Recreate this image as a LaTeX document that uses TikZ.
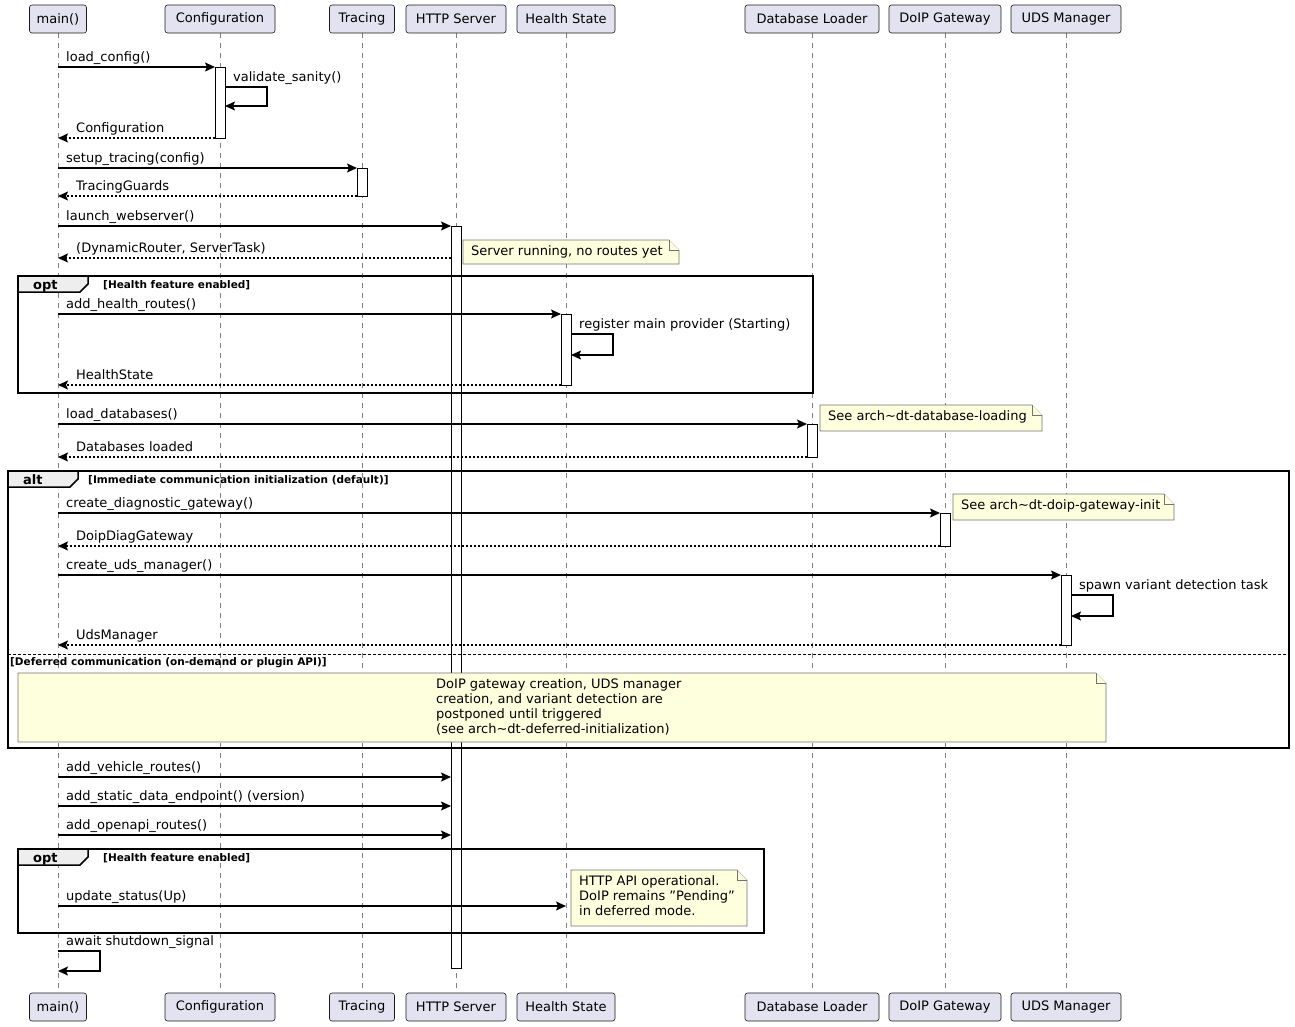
\documentclass[tikz,border=0pt]{standalone}
\usepackage{fontspec}
\setmainfont{DejaVu Sans}
\usetikzlibrary{arrows.meta}
\definecolor{partfill}{HTML}{E2E2F0}
\definecolor{notefill}{HTML}{FEFFDD}
\definecolor{tabfill}{HTML}{EEEEEE}
\tikzset{
  part/.style={draw=black!90, fill=partfill, rounded corners=2.5pt, minimum height=28pt,
    inner sep=0pt, line width=0.6pt, font=\fontsize{13}{15}\selectfont},
  life/.style={draw=gray, dash pattern=on 5pt off 5pt, line width=0.7pt},
  msg/.style={line width=1.4pt, -{Stealth[length=10pt,width=9pt,inset=2pt]}},
  ret/.style={msg, dash pattern=on 2pt off 2pt},
  lbl/.style={anchor=base west, inner sep=0pt, font=\fontsize{13}{15}\selectfont},
  act/.style={draw, fill=white, line width=0.8pt},
  note/.style={draw=black!55, fill=notefill, line width=0.6pt},
  frag/.style={draw=black, line width=1.5pt},
  guard/.style={anchor=base west, inner sep=0pt, font=\bfseries\fontsize{10.5}{12}\selectfont}
}
% messages
\newcommand\msg[4]{\draw[msg] (#2,#1) -- (#3,#1); \node[lbl] at ({#2+8},{#1-6}) {#4};}
\newcommand\ret[4]{\draw[ret] (#2,#1) -- (#3,#1); \node[lbl] at ({#3+18},{#1-6}) {#4};}
\newcommand\self[4]{\draw[msg] (#2,#1) -- ({#2+42},#1) -- ({#2+42},#3) -- (#2,#3);
  \node[lbl] at ({#2+8},{#1-6}) {#4};}
\newcommand\actbox[3]{\draw[act] ({#1-5},#2) rectangle ({#1+5},#3);}
\newcommand\notebox[5]{\draw[note] (#1,#2) -- ({#3-10},#2) -- (#3,{#2+10}) -- (#3,#4) -- (#1,#4) -- cycle;
  \draw[note] ({#3-10},#2) -- ({#3-10},{#2+10}) -- (#3,{#2+10});
  \node[lbl, anchor=north west, align=left] at ({#1+8},{#2+5}) {#5};}
\newcommand\fragbox[7]{\draw[frag] (#1,#2) rectangle (#3,#4);
  \draw[frag, fill=tabfill] (#1,#2) -- ({#1+70},#2) -- ({#1+70},{#2+8}) -- ({#1+62},{#2+16}) -- (#1,{#2+16}) -- cycle;
  \node[lbl, font=\bfseries\fontsize{13}{15}\selectfont] at ({#1+15},{#2+13}) {#5};
  \node[guard] at (#6,{#2+12}) {#7};}
\begin{document}
\begin{tikzpicture}[x=1pt,y=-1pt]
\useasboundingbox (0,0) rectangle (1295,1026);
% Participants
\foreach \n/\x/\w/\t in {main/58/57/main(), conf/220/110/Configuration, trac/362/65/Tracing,
    http/456/100/HTTP Server, hlth/566/98/Health State, dbl/812/134/Database Loader,
    doip/945/112/DoIP Gateway, uds/1066/110/UDS Manager}{
  \draw[life] (\x,33) -- (\x,993);
  \node[part, minimum width=\w pt] (\n) at (\x,19) {\t};
  \node[part, minimum width=\w pt] (\n b) at (\x,1007) {\t};
}
% Activations
\actbox{220}{67}{138}
\actbox{362}{168}{196}
\actbox{456}{226}{968}
\actbox{566}{314}{385}
\actbox{812}{424}{457}
\actbox{945}{513}{546}
\actbox{1066}{575}{645}
% Fragments
\fragbox{18}{276}{813}{393}{opt}{103}{[Health feature enabled]}
\fragbox{8}{471}{1289}{748}{alt}{88}{[Immediate communication initialization (default)]}
\draw[dash pattern=on 3pt off 2pt, line width=0.8pt] (8,654) -- (1289,654);
\node[guard] at (10,665) {[Deferred communication (on-demand or plugin API)]};
\fragbox{18}{849}{764}{933}{opt}{103}{[Health feature enabled]}
% Messages
\msg{67}{58}{215}{load\_config()}
\self{87}{225}{106}{validate\_sanity()}
\ret{138}{215}{58}{Configuration}
\msg{168}{58}{357}{setup\_tracing(config)}
\ret{196}{357}{58}{TracingGuards}
\msg{226}{58}{451}{launch\_webserver()}
\ret{258}{451}{58}{(DynamicRouter, ServerTask)}
\msg{314}{58}{561}{add\_health\_routes()}
\self{334}{571}{355}{register main provider (Starting)}
\ret{385}{561}{58}{HealthState}
\msg{424}{58}{807}{load\_databases()}
\ret{457}{807}{58}{Databases loaded}
\msg{513}{58}{940}{create\_diagnostic\_gateway()}
\ret{546}{940}{58}{DoipDiagGateway}
\msg{575}{58}{1061}{create\_uds\_manager()}
\self{595}{1071}{616}{spawn variant detection task}
\ret{645}{1061}{58}{UdsManager}
\msg{777}{58}{451}{add\_vehicle\_routes()}
\msg{806}{58}{451}{add\_static\_data\_endpoint() (version)}
\msg{835}{58}{451}{add\_openapi\_routes()}
\msg{906}{58}{566}{update\_status(Up)}
\self{951}{58}{971}{await shutdown\_signal}
% Notes
\notebox{463}{240}{679}{264}{Server running, no routes yet}
\notebox{820}{405}{1042}{431}{See arch\textasciitilde dt-database-loading}
\notebox{953}{494}{1174}{520}{See arch\textasciitilde dt-doip-gateway-init}
\notebox{571}{870}{747}{926}{HTTP API operational.\\DoIP remains "Pending"\\in deferred mode.}
\draw[note] (18,673) -- (1096,673) -- (1106,683) -- (1106,742) -- (18,742) -- cycle;
\draw[note] (1096,673) -- (1096,683) -- (1106,683);
\node[lbl, anchor=north west, align=left] at (436,678) {DoIP gateway creation, UDS manager\\creation, and variant detection are\\postponed until triggered\\(see arch\textasciitilde dt-deferred-initialization)};
\end{tikzpicture}
\end{document}
